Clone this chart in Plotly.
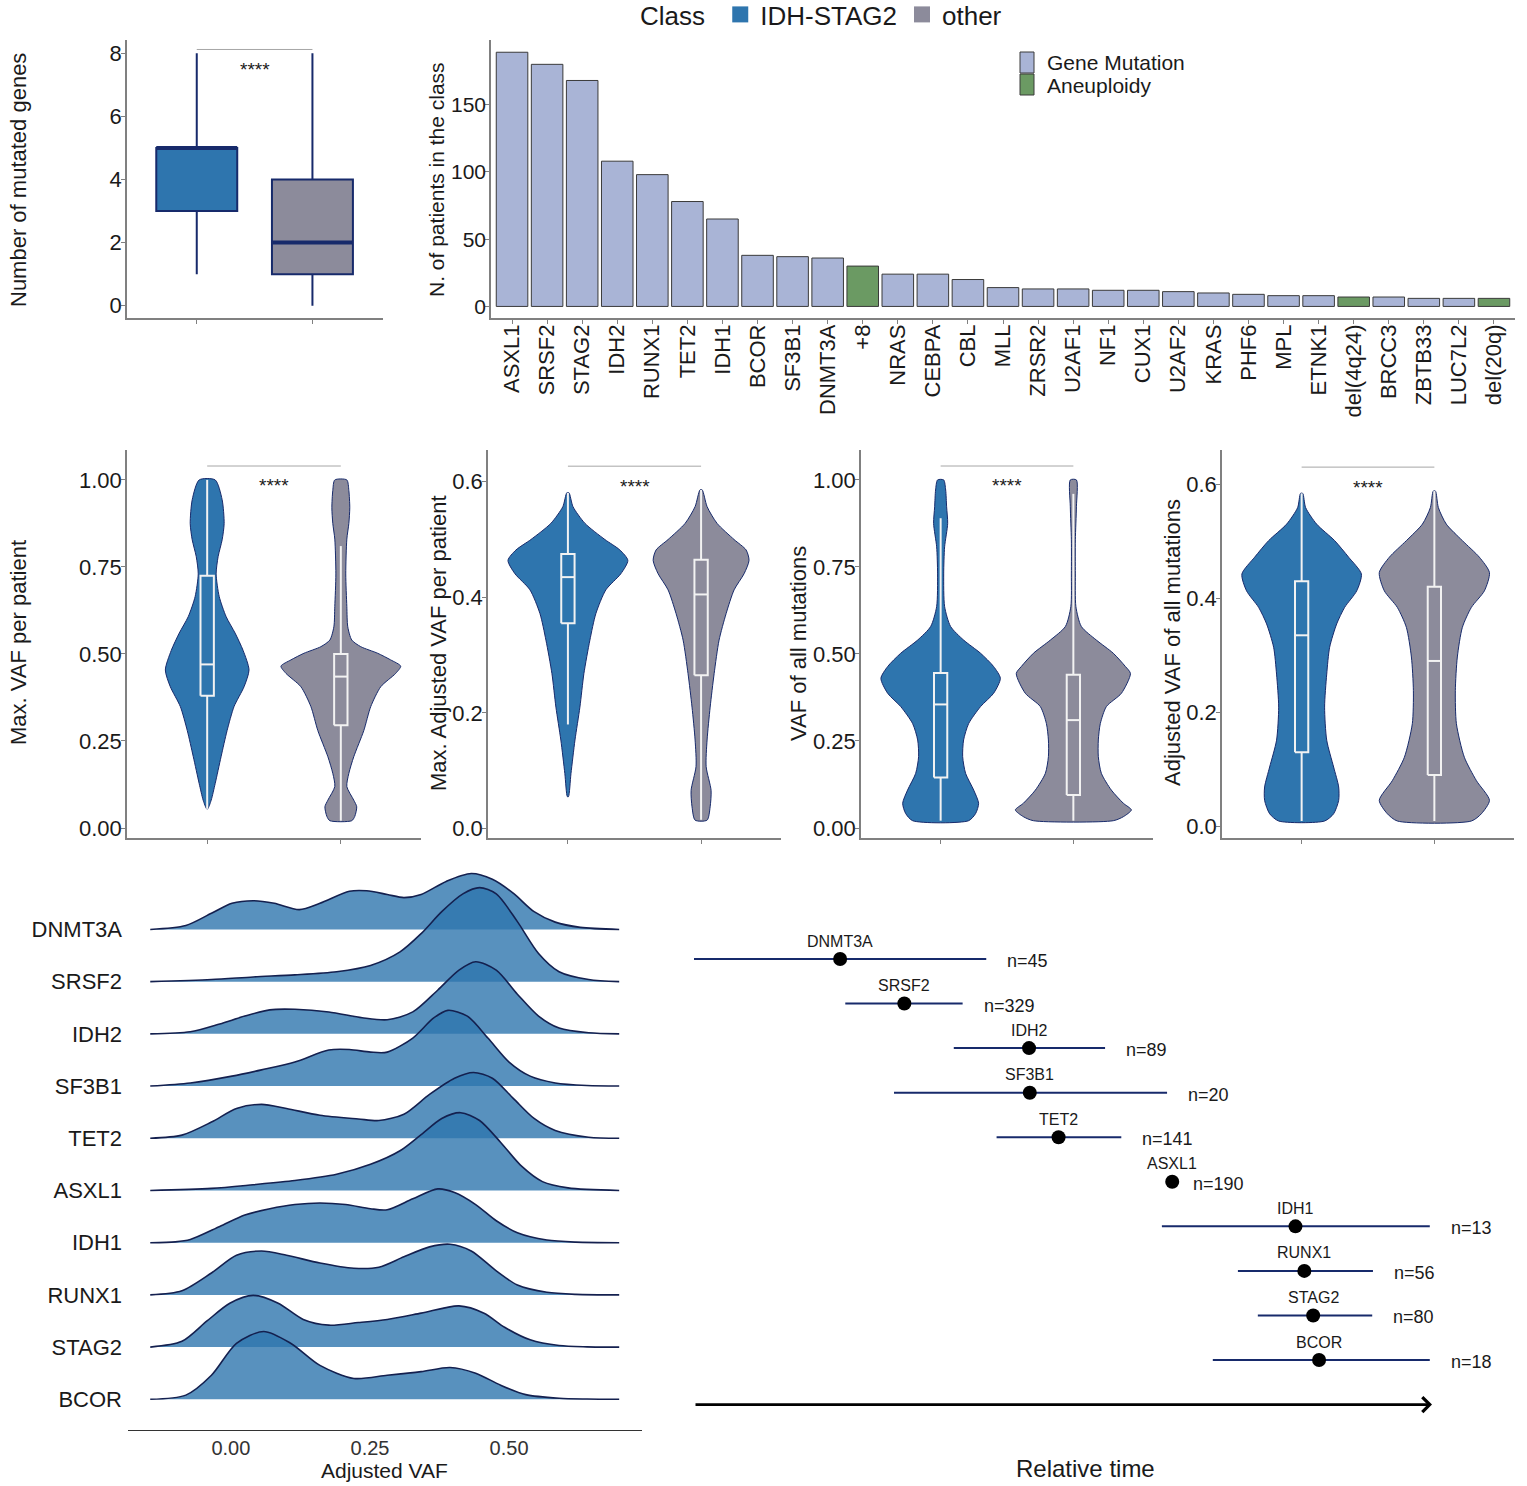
import plotly.graph_objects as go

W, H = 1527, 1486


def fx(px):
    return px / W


def fy(py):
    return 1 - py / H


FONT = "Liberation Sans, Arial, Helvetica, sans-serif"
BLUE = "#2E75AE"
GREY = "#8C8B9B"
NAVY = "#172A6B"
AXIS = "#808080"
INK = "#1A1A1A"
MUT_FILL = "#A9B4D6"
ANEU_FILL = "#6B9A63"
BAR_EDGE = "#3A3A3A"
RIDGE_FILL = "rgba(46,117,174,0.80)"
RIDGE_LINE = "#14204F"

# ---------------- data ----------------
classes = ["IDH-STAG2", "other"]
class_colors = [BLUE, GREY]

# number of mutated genes per patient (box summary)
ngenes_low = [1, 0]
ngenes_q1 = [3, 1]
ngenes_med = [5, 2]
ngenes_q3 = [5, 4]
ngenes_high = [8, 8]

# lesions in the IDH-STAG2 class
lesions = ["ASXL1", "SRSF2", "STAG2", "IDH2", "RUNX1", "TET2", "IDH1", "BCOR", "SF3B1",
           "DNMT3A", "+8", "NRAS", "CEBPA", "CBL", "MLL", "ZRSR2", "U2AF1", "NF1", "CUX1",
           "U2AF2", "KRAS", "PHF6", "MPL", "ETNK1", "del(4q24)", "BRCC3", "ZBTB33",
           "LUC7L2", "del(20q)"]
lesion_counts = [189, 180, 168, 108, 98, 78, 65, 38, 37, 36, 30, 24, 24, 20, 14, 13, 13,
                 12, 12, 11, 10, 9, 8, 8, 7, 7, 6, 6, 6]
lesion_kind = ["Gene Mutation"] * 10 + ["Aneuploidy"] + ["Gene Mutation"] * 13 + \
              ["Aneuploidy"] + ["Gene Mutation"] * 3 + ["Aneuploidy"]
lesion_kinds = ["Gene Mutation", "Aneuploidy"]

# violin density profiles (value, half-width) and box summaries
maxvaf_idh_y = [1.0, 0.943, 0.875, 0.828, 0.78, 0.73, 0.665, 0.607, 0.56, 0.51, 0.454, 0.406,
                0.349, 0.28, 0.205, 0.128, 0.08, 0.055]
maxvaf_idh_w = [0.060, 0.112, 0.127, 0.112, 0.082, 0.067, 0.090, 0.142, 0.209, 0.269, 0.313,
                0.276, 0.201, 0.149, 0.104, 0.060, 0.030, 0.004]
maxvaf_oth_y = [1.0, 0.97, 0.92, 0.875, 0.83, 0.73, 0.636, 0.578, 0.54, 0.521, 0.502, 0.483,
                0.465, 0.444, 0.406, 0.349, 0.28, 0.205, 0.157, 0.119, 0.08, 0.061, 0.033, 0.021]
maxvaf_oth_w = [0.045, 0.060, 0.067, 0.060, 0.045, 0.037, 0.045, 0.052, 0.082, 0.149, 0.276,
                0.373, 0.448, 0.410, 0.299, 0.224, 0.172, 0.097, 0.060, 0.045, 0.097, 0.119,
                0.104, 0.082]
maxvaf_low = [0.055, 0.021]
maxvaf_q1 = [0.38, 0.295]
maxvaf_med = [0.47, 0.435]
maxvaf_q3 = [0.725, 0.50]
maxvaf_high = [1.0, 0.81]

maxadj_idh_y = [0.581, 0.557, 0.528, 0.5, 0.482, 0.464, 0.441, 0.413, 0.372, 0.326, 0.268,
                0.21, 0.153, 0.095, 0.055]
maxadj_idh_w = [0.008, 0.038, 0.128, 0.278, 0.390, 0.450, 0.398, 0.285, 0.210, 0.165, 0.120,
                0.090, 0.053, 0.023, 0.004]
maxadj_oth_y = [0.586, 0.557, 0.528, 0.5, 0.482, 0.464, 0.441, 0.413, 0.372, 0.326, 0.268,
                0.21, 0.153, 0.107, 0.066, 0.0375, 0.0144]
maxadj_oth_w = [0.008, 0.045, 0.120, 0.248, 0.338, 0.360, 0.323, 0.248, 0.188, 0.135, 0.098,
                0.068, 0.045, 0.038, 0.075, 0.068, 0.045]
maxadj_low = [0.18, 0.015]
maxadj_q1 = [0.355, 0.265]
maxadj_med = [0.435, 0.405]
maxadj_q3 = [0.475, 0.465]
maxadj_high = [0.581, 0.586]

allvaf_idh_y = [1.0, 0.971, 0.923, 0.875, 0.808, 0.73, 0.636, 0.579, 0.54, 0.502, 0.464, 0.43,
                0.387, 0.349, 0.30, 0.253, 0.205, 0.157, 0.109, 0.071, 0.042, 0.021]
allvaf_idh_w = [0.023, 0.038, 0.045, 0.053, 0.030, 0.023, 0.030, 0.075, 0.173, 0.301, 0.399,
                0.450, 0.399, 0.301, 0.211, 0.173, 0.166, 0.188, 0.249, 0.286, 0.264, 0.211]
allvaf_oth_y = [1.0, 0.923, 0.828, 0.73, 0.636, 0.579, 0.54, 0.502, 0.464, 0.444, 0.387, 0.349,
                0.30, 0.253, 0.205, 0.157, 0.109, 0.071, 0.052, 0.0326, 0.021]
allvaf_oth_w = [0.023, 0.023, 0.015, 0.015, 0.019, 0.060, 0.173, 0.301, 0.392, 0.430, 0.362,
                0.249, 0.203, 0.188, 0.188, 0.211, 0.286, 0.377, 0.437, 0.377, 0.301]
allvaf_low = [0.021, 0.021]
allvaf_q1 = [0.145, 0.095]
allvaf_med = [0.355, 0.31]
allvaf_q3 = [0.445, 0.44]
allvaf_high = [0.89, 0.96]

alladj_idh_y = [0.584, 0.559, 0.530, 0.501, 0.472, 0.4425, 0.413, 0.384, 0.355, 0.314, 0.267,
                0.209, 0.151, 0.104, 0.069, 0.0455, 0.022, 0.0093]
alladj_idh_w = [0.008, 0.030, 0.113, 0.249, 0.354, 0.450, 0.415, 0.324, 0.264, 0.211, 0.189,
                0.173, 0.189, 0.241, 0.279, 0.279, 0.241, 0.173]
alladj_oth_y = [0.588, 0.559, 0.530, 0.501, 0.472, 0.445, 0.413, 0.384, 0.349, 0.297, 0.238,
                0.18, 0.121, 0.08, 0.0455, 0.022, 0.0093]
alladj_oth_w = [0.008, 0.030, 0.090, 0.211, 0.339, 0.415, 0.377, 0.279, 0.211, 0.173, 0.158,
                0.166, 0.226, 0.317, 0.415, 0.354, 0.279]
alladj_low = [0.0093, 0.0093]
alladj_q1 = [0.13, 0.09]
alladj_med = [0.335, 0.29]
alladj_q3 = [0.43, 0.42]
alladj_high = [0.584, 0.588]

# adjusted-VAF density ridges per gene (x, density height in row units)
ridge_genes = ["DNMT3A", "SRSF2", "IDH2", "SF3B1", "TET2", "ASXL1", "IDH1", "RUNX1", "STAG2", "BCOR"]
dnmt3a_x = [-0.145, -0.081, -0.035, 0.002, 0.04, 0.078, 0.123, 0.16, 0.213, 0.244, 0.281, 0.311,
            0.342, 0.387, 0.432, 0.47, 0.508, 0.545, 0.583, 0.628, 0.698]
dnmt3a_h = [0, 0.076, 0.31, 0.50, 0.55, 0.50, 0.38, 0.50, 0.73, 0.74, 0.67, 0.61, 0.67, 0.92,
            1.07, 0.96, 0.69, 0.34, 0.14, 0.04, 0]
srsf2_x = [-0.145, -0.035, 0.04, 0.115, 0.19, 0.251, 0.304, 0.342, 0.379, 0.417, 0.447, 0.477,
           0.515, 0.553, 0.59, 0.643, 0.698]
srsf2_h = [0, 0.04, 0.09, 0.13, 0.19, 0.31, 0.57, 0.92, 1.34, 1.68, 1.80, 1.68, 1.15, 0.54, 0.19,
           0.04, 0]
idh2_x = [-0.145, -0.073, -0.02, 0.025, 0.07, 0.115, 0.176, 0.236, 0.281, 0.327, 0.372, 0.41,
          0.44, 0.477, 0.515, 0.553, 0.59, 0.643, 0.698]
idh2_h = [0, 0.04, 0.19, 0.34, 0.46, 0.47, 0.42, 0.31, 0.27, 0.42, 0.84, 1.22, 1.38, 1.22, 0.76,
          0.34, 0.11, 0.02, 0]
sf3b1_x = [-0.145, -0.073, 0.002, 0.055, 0.115, 0.176, 0.213, 0.251, 0.281, 0.327, 0.364, 0.39,
           0.425, 0.462, 0.5, 0.538, 0.583, 0.64, 0.698]
sf3b1_h = [0, 0.06, 0.19, 0.31, 0.46, 0.69, 0.70, 0.65, 0.65, 0.92, 1.30, 1.45, 1.34, 0.92, 0.46,
           0.19, 0.06, 0.01, 0]
tet2_x = [-0.145, -0.088, -0.035, 0.01, 0.055, 0.1, 0.16, 0.229, 0.266, 0.311, 0.357, 0.402,
          0.436, 0.47, 0.508, 0.545, 0.583, 0.643, 0.698]
tet2_h = [0, 0.06, 0.31, 0.57, 0.65, 0.57, 0.44, 0.37, 0.34, 0.46, 0.84, 1.15, 1.26, 1.15, 0.76,
          0.38, 0.15, 0.02, 0]
asxl1_x = [-0.145, -0.035, 0.04, 0.115, 0.19, 0.251, 0.304, 0.342, 0.379, 0.413, 0.447, 0.485,
           0.523, 0.56, 0.606, 0.698]
asxl1_h = [0, 0.04, 0.11, 0.19, 0.31, 0.50, 0.76, 1.07, 1.38, 1.49, 1.34, 0.92, 0.46, 0.17, 0.05, 0]
idh1_x = [-0.145, -0.1, -0.073, -0.02, 0.025, 0.07, 0.115, 0.16, 0.206, 0.251, 0.281, 0.327,
          0.372, 0.402, 0.44, 0.477, 0.515, 0.568, 0.62, 0.698]
idh1_h = [0, 0.015, 0.06, 0.31, 0.53, 0.65, 0.73, 0.76, 0.73, 0.65, 0.63, 0.84, 1.03, 0.96, 0.73,
          0.42, 0.19, 0.05, 0.01, 0]
runx1_x = [-0.145, -0.088, -0.035, 0.01, 0.055, 0.1, 0.16, 0.221, 0.266, 0.311, 0.357, 0.394,
           0.432, 0.477, 0.515, 0.568, 0.62, 0.698]
runx1_h = [0, 0.08, 0.42, 0.76, 0.84, 0.76, 0.61, 0.51, 0.53, 0.73, 0.92, 0.97, 0.84, 0.46, 0.19,
           0.05, 0.01, 0]
stag2_x = [-0.145, -0.088, -0.043, -0.002, 0.04, 0.085, 0.13, 0.176, 0.229, 0.281, 0.342, 0.41,
           0.455, 0.492, 0.538, 0.59, 0.64, 0.698]
stag2_h = [0, 0.11, 0.50, 0.84, 0.99, 0.84, 0.53, 0.42, 0.47, 0.53, 0.65, 0.79, 0.65, 0.38, 0.14,
           0.03, 0.005, 0]
bcor_x = [-0.145, -0.081, -0.035, 0.01, 0.059, 0.108, 0.16, 0.221, 0.281, 0.342, 0.394, 0.44,
          0.485, 0.53, 0.59, 0.64, 0.698]
bcor_h = [0, 0.08, 0.46, 1.07, 1.30, 1.07, 0.65, 0.40, 0.46, 0.53, 0.61, 0.50, 0.27, 0.09, 0.02,
          0.005, 0]

# relative timing of acquisition (estimate with interval), patients per gene
timing_genes = ["DNMT3A", "SRSF2", "IDH2", "SF3B1", "TET2", "ASXL1", "IDH1", "RUNX1", "STAG2", "BCOR"]
timing_est = [19.8, 28.5, 45.4, 45.5, 49.4, 64.8, 81.5, 82.7, 83.9, 84.7]
timing_low = [0.0, 20.5, 35.2, 27.1, 41.0, 64.8, 63.4, 73.7, 76.4, 70.3]
timing_high = [39.6, 36.4, 55.7, 64.1, 57.9, 64.8, 99.7, 92.0, 91.9, 99.7]
timing_n = [45, 329, 89, 20, 141, 190, 13, 56, 80, 18]

fig = go.Figure()

# legend keys for the class colours
for cls, col in zip(classes, class_colors):
    fig.add_trace(go.Scatter(
        x=[None], y=[None], mode="markers", name=cls,
        marker=dict(symbol="square", size=16, color=col),
        legend="legend", xaxis="x", yaxis="y"))

# ---------------- panel 1: number of mutated genes ----------------
for i, cls in enumerate(classes):
    fig.add_trace(go.Box(
        x=[i], q1=[ngenes_q1[i]], median=[ngenes_med[i]], q3=[ngenes_q3[i]],
        lowerfence=[ngenes_low[i]], upperfence=[ngenes_high[i]],
        width=0.7, whiskerwidth=0, fillcolor=class_colors[i],
        line=dict(color=NAVY, width=2), boxpoints=False, showlegend=False,
        hoverinfo="skip", xaxis="x", yaxis="y"))
    fig.add_trace(go.Scatter(
        x=[i - 0.35, i + 0.35], y=[ngenes_med[i], ngenes_med[i]], mode="lines",
        line=dict(color=NAVY, width=4), showlegend=False, hoverinfo="skip",
        xaxis="x", yaxis="y"))

# ---------------- panel 2: lesion frequencies ----------------
kind_fill = {"Gene Mutation": MUT_FILL, "Aneuploidy": ANEU_FILL}
for kind in lesion_kinds:
    xs = [l for l, k in zip(lesions, lesion_kind) if k == kind]
    ys = [c for c, k in zip(lesion_counts, lesion_kind) if k == kind]
    fig.add_trace(go.Bar(
        x=xs, y=ys, name=kind, width=0.9,
        marker=dict(color=kind_fill[kind], line=dict(color=BAR_EDGE, width=1)),
        showlegend=False, hoverinfo="skip", xaxis="x2", yaxis="y2"))


# ---------------- panels 3-6: violins with inner boxes ----------------
def outline(center, ys, half):
    xs = [center + w for w in half] + [center - w for w in reversed(half)]
    yy = list(ys) + list(reversed(ys))
    return xs + [xs[0]], yy + [yy[0]]


def inner_box(center, low, q1, med, q3, high, half=0.05):
    xl, xr = center - half, center + half
    xs = [xl, xr, xr, xl, xl, None, xl, xr, None, center, center, None, center, center]
    ys = [q1, q1, q3, q3, q1, None, med, med, None, low, q1, None, q3, high]
    return xs, ys


violin_panels = [
    (3, [(maxvaf_idh_y, maxvaf_idh_w), (maxvaf_oth_y, maxvaf_oth_w)],
     (maxvaf_low, maxvaf_q1, maxvaf_med, maxvaf_q3, maxvaf_high)),
    (4, [(maxadj_idh_y, maxadj_idh_w), (maxadj_oth_y, maxadj_oth_w)],
     (maxadj_low, maxadj_q1, maxadj_med, maxadj_q3, maxadj_high)),
    (5, [(allvaf_idh_y, allvaf_idh_w), (allvaf_oth_y, allvaf_oth_w)],
     (allvaf_low, allvaf_q1, allvaf_med, allvaf_q3, allvaf_high)),
    (6, [(alladj_idh_y, alladj_idh_w), (alladj_oth_y, alladj_oth_w)],
     (alladj_low, alladj_q1, alladj_med, alladj_q3, alladj_high)),
]
for k, profiles, stats in violin_panels:
    low, q1, med, q3, high = stats
    for i, (ys, ws) in enumerate(profiles):
        vx, vy = outline(i, ys, ws)
        fig.add_trace(go.Scatter(
            x=vx, y=vy, mode="lines", fill="toself", fillcolor=class_colors[i],
            line=dict(color=NAVY, width=1, shape="spline", smoothing=0.7),
            showlegend=False, hoverinfo="skip", xaxis=f"x{k}", yaxis=f"y{k}"))
    for i in range(2):
        bx, by = inner_box(i, low[i], q1[i], med[i], q3[i], high[i])
        fig.add_trace(go.Scatter(
            x=bx, y=by, mode="lines", line=dict(color="#F2F2F2", width=2),
            showlegend=False, hoverinfo="skip", xaxis=f"x{k}", yaxis=f"y{k}"))

# ---------------- panel 7: ridgeline of adjusted VAF ----------------
ridge_x = [dnmt3a_x, srsf2_x, idh2_x, sf3b1_x, tet2_x, asxl1_x, idh1_x, runx1_x, stag2_x, bcor_x]
ridge_h = [dnmt3a_h, srsf2_h, idh2_h, sf3b1_h, tet2_h, asxl1_h, idh1_h, runx1_h, stag2_h, bcor_h]
n_rows = len(ridge_genes)
for r, (gx, gh) in enumerate(zip(ridge_x, ridge_h)):
    base = n_rows - 1 - r
    fig.add_trace(go.Scatter(
        x=gx, y=[base] * len(gx), mode="lines", line=dict(width=0, color="rgba(0,0,0,0)"),
        showlegend=False, hoverinfo="skip", xaxis="x7", yaxis="y7"))
    fig.add_trace(go.Scatter(
        x=gx, y=[base + h for h in gh], mode="lines", fill="tonexty", fillcolor=RIDGE_FILL,
        line=dict(color=RIDGE_LINE, width=1.6, shape="spline", smoothing=0.8),
        showlegend=False, hoverinfo="skip", xaxis="x7", yaxis="y7"))

# ---------------- panel 8: relative timing ----------------
rows = list(range(len(timing_genes)))
fig.add_trace(go.Scatter(
    x=timing_est, y=rows, mode="markers",
    marker=dict(color="black", size=14),
    error_x=dict(type="data", symmetric=False,
                 array=[h - e for h, e in zip(timing_high, timing_est)],
                 arrayminus=[e - l for e, l in zip(timing_est, timing_low)],
                 color=NAVY, thickness=2, width=0),
    showlegend=False, hoverinfo="skip", xaxis="x8", yaxis="y8"))

# ---------------- annotations ----------------
ann = []
shapes = []


def title_ann(text, px, py, size=22, angle=-90):
    ann.append(dict(text=text, x=fx(px), y=fy(py), xref="paper", yref="paper",
                    showarrow=False, textangle=angle, font=dict(size=size, color=INK),
                    xanchor="center", yanchor="middle"))


title_ann("Number of mutated genes", 18, 180)
title_ann("N. of patients in the class", 436, 180, size=21)
title_ann("Max. VAF per patient", 18, 643)
title_ann("Max. Adjusted VAF per patient", 438, 643)
title_ann("VAF of all mutations", 798, 643)
title_ann("Adjusted VAF of all mutations", 1172, 643)
title_ann("Adjusted VAF", 385, 1470, size=21, angle=0)
title_ann("Relative time", 1085, 1468, size=24, angle=0)

# key for the lesion type colours
for j, kind in enumerate(lesion_kinds):
    top = 52 + 22 * j
    shapes.append(dict(type="rect", xref="paper", yref="paper",
                       x0=fx(1020), x1=fx(1034), y0=fy(top + 21), y1=fy(top),
                       fillcolor=kind_fill[kind], line=dict(color=BAR_EDGE, width=1)))
    ann.append(dict(text=kind, x=fx(1045), y=fy(top + 11), xref="paper", yref="paper",
                    showarrow=False, xanchor="left", yanchor="middle",
                    font=dict(size=21, color=INK)))

brackets = [("", 8.12, 7.47), ("3", 1.04, 0.983), ("4", 0.627, 0.5925), ("5", 1.04, 0.983),
            ("6", 0.630, 0.595)]
for suffix, yb, ys in brackets:
    shapes.append(dict(type="line", xref=f"x{suffix}", yref=f"y{suffix}", x0=0, x1=1, y0=yb, y1=yb,
                       line=dict(color="#A6A6A6", width=1)))
    ann.append(dict(text="****", x=0.5, y=ys, xref=f"x{suffix}", yref=f"y{suffix}", showarrow=False,
                    font=dict(size=19, color=INK), xanchor="center", yanchor="middle"))

for i, g in enumerate(timing_genes):
    ann.append(dict(text=g, x=timing_est[i], y=i, xref="x8", yref="y8", showarrow=False,
                    yshift=18, font=dict(size=16, color=INK), xanchor="center", yanchor="middle"))
    ann.append(dict(text=f"n={timing_n[i]}", x=timing_high[i], y=i, xref="x8", yref="y8",
                    showarrow=False, xshift=19, yshift=-2, font=dict(size=18, color=INK),
                    xanchor="left", yanchor="middle"))

ann.append(dict(text="", x=100, y=len(timing_genes), ax=0, ay=len(timing_genes),
                xref="x8", yref="y8", axref="x8", ayref="y8", showarrow=True,
                arrowhead=4, arrowsize=1.1, arrowwidth=2.6, arrowcolor="black"))


# ---------------- axes ----------------
def frame(**kw):
    base = dict(showgrid=False, zeroline=False, showline=True, linecolor=AXIS, linewidth=1.5,
                ticks="outside", ticklen=4, tickwidth=1.2, tickcolor=AXIS,
                tickfont=dict(size=22, color=INK), fixedrange=True)
    base.update(kw)
    return base


ROW1 = [fy(318), fy(40)]
ROW2 = [fy(838), fy(450)]
cat_ticks = dict(tickvals=[0, 1], ticktext=["", ""], range=[-0.6, 1.6])
YSO = -5

layout = dict(
    width=W, height=H, margin=dict(l=0, r=0, t=0, b=0, autoexpand=False),
    paper_bgcolor="white", plot_bgcolor="white",
    font=dict(family=FONT, color=INK),
    barmode="overlay", boxmode="overlay",
    showlegend=True,
    legend=dict(orientation="h", x=fx(638), y=1 + 9 / H, xanchor="left", yanchor="top",
                traceorder="normal",
                title=dict(text="Class ", font=dict(size=26, color=INK), side="left"),
                font=dict(size=26, color=INK), bgcolor="rgba(0,0,0,0)", itemclick=False,
                itemdoubleclick=False),
    annotations=ann, shapes=shapes,
    xaxis=frame(domain=[fx(127), fx(383)], anchor="y", tickvals=[0, 1], ticktext=["", ""],
                range=[-0.603, 1.61]),
    yaxis=frame(domain=ROW1, anchor="x", range=[-0.39, 8.42], tickvals=[0, 2, 4, 6, 8],
                ticklabelstandoff=YSO),
    xaxis2=frame(domain=[fx(491), fx(1515)], anchor="y2", type="category", categoryorder="array",
                 categoryarray=lesions, range=[-0.6, 28.6], tickangle=-90, ticklabelstandoff=-8),
    yaxis2=frame(domain=ROW1, anchor="x2", range=[-8.6, 198.1], tickvals=[0, 50, 100, 150],
                 tickfont=dict(size=21, color=INK), ticklabelstandoff=YSO),
    xaxis3=frame(domain=[fx(127), fx(421)], anchor="y3", **cat_ticks),
    yaxis3=frame(domain=ROW2, anchor="x3", range=[-0.0287, 1.086], ticklabelstandoff=YSO,
                 tickvals=[0, 0.25, 0.5, 0.75, 1.0], ticktext=["0.00", "0.25", "0.50", "0.75", "1.00"]),
    xaxis4=frame(domain=[fx(488), fx(781)], anchor="y4", **cat_ticks),
    yaxis4=frame(domain=ROW2, anchor="x4", range=[-0.0165, 0.655], ticklabelstandoff=YSO,
                 tickvals=[0, 0.2, 0.4, 0.6], ticktext=["0.0", "0.2", "0.4", "0.6"]),
    xaxis5=frame(domain=[fx(861), fx(1153)], anchor="y5", **cat_ticks),
    yaxis5=frame(domain=ROW2, anchor="x5", range=[-0.0287, 1.086], ticklabelstandoff=YSO,
                 tickvals=[0, 0.25, 0.5, 0.75, 1.0], ticktext=["0.00", "0.25", "0.50", "0.75", "1.00"]),
    xaxis6=frame(domain=[fx(1222), fx(1514)], anchor="y6", **cat_ticks),
    yaxis6=frame(domain=ROW2, anchor="x6", range=[-0.0205, 0.660], ticklabelstandoff=YSO,
                 tickvals=[0, 0.2, 0.4, 0.6], ticktext=["0.0", "0.2", "0.4", "0.6"]),
    xaxis7=frame(domain=[fx(128), fx(642)], anchor="y7", range=[-0.185, 0.739],
                 tickvals=[0, 0.25, 0.5], ticktext=["0.00", "0.25", "0.50"], ticks="",
                 linecolor="#333333", linewidth=1.3, tickfont=dict(size=20, color="#333333")),
    yaxis7=frame(domain=[fy(1430), fy(860)], anchor="x7", range=[-0.588, 10.33],
                 tickvals=[n_rows - 1 - r for r in range(n_rows)], ticktext=ridge_genes,
                 showline=False, ticks="", ticklabelstandoff=5),
    xaxis8=dict(domain=[fx(694), 1.0], anchor="y8", range=[0, (W - 694) / 7.38], visible=False,
                fixedrange=True),
    yaxis8=dict(domain=[fy(1430), fy(880)], anchor="x8", range=[10.57, -1.773], visible=False,
                fixedrange=True),
)
fig.update_layout(**layout)

fig.write_html("out.html")
